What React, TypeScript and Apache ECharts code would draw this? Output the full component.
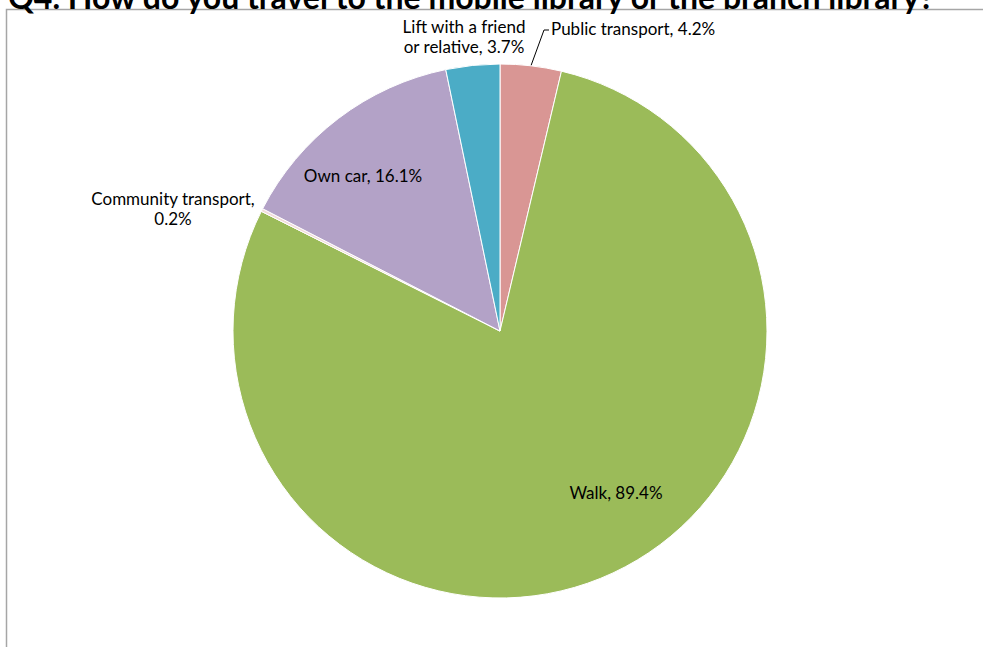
import React, { useEffect, useRef } from "react";
import * as echarts from "echarts";

const titleText = "Q4. How do you travel to the mobile library or the branch library?";
const categories = ["Public transport", "Walk", "Community transport", "Own car", "Lift with a friend or relative"];
const values = [4.2, 89.4, 0.2, 16.1, 3.7];
const colors = ["#D99694", "#9BBB59", "#F2DCDB", "#B3A2C7", "#4BACC6"];
// character index at which the label text wraps onto a second line
const wrapAt: Record<string, number> = { "Lift with a friend or relative": 18, "Community transport": 20 };

// label anchor positions (layout only)
const labelPos: Record<string, { x: number; y: number; align: string }> = {
  "Public transport": { x: 551, y: 28, align: "left" },
  "Walk": { x: 616, y: 492, align: "center" },
  "Community transport": { x: 173, y: 208, align: "center" },
  "Own car": { x: 363, y: 175, align: "center" },
  "Lift with a friend or relative": { x: 464, y: 36, align: "center" },
};

const FONT = "Lato, 'Open Sans', sans-serif";

export default function App() {
  const ref = useRef<HTMLDivElement>(null);
  useEffect(() => {
    if (!ref.current) return;
    const chart = echarts.init(ref.current, null, { renderer: "svg" });
    const data = categories.map((name, i) => ({
      name,
      value: values[i],
      itemStyle: { color: colors[i] },
      labelLine: { show: name === "Public transport" },
    }));
    chart.setOption({
      animation: false,
      backgroundColor: "#ffffff",
      graphic: [
        {
          type: "rect",
          z: -1,
          shape: { x: 6.5, y: 9.5, width: 1100, height: 800 },
          style: { fill: "none", stroke: "#a6a6a6", lineWidth: 1.5 },
          silent: true,
        },
        {
          type: "text",
          x: 8,
          y: 12,
          style: {
            text: titleText,
            font: `bold 32px ${FONT}`,
            fill: "#000000",
            textAlign: "left",
            textVerticalAlign: "bottom",
          },
        },
      ],
      series: [
        {
          type: "pie",
          center: [500, 331],
          radius: 267,
          startAngle: 90,
          clockwise: true,
          avoidLabelOverlap: false,
          itemStyle: { borderColor: "#ffffff", borderWidth: 1 },
          data,
          label: {
            show: true,
            position: "outside",
            fontFamily: FONT,
            fontSize: 17,
            lineHeight: 20,
            color: "#000000",
            formatter: (p: any) => {
              let t = `${p.name}, ${Number(p.value).toFixed(1)}%`;
              const w = wrapAt[p.name];
              if (w !== undefined) t = t.slice(0, w) + "\n" + t.slice(w + 1);
              return t;
            },
          },
          labelLine: {
            show: false,
            lineStyle: { color: "#000000", width: 1 },
          },
          labelLayout: (params: any) => {
            const name = categories[params.dataIndex];
            const pos = labelPos[name];
            const out: any = { x: pos.x, y: pos.y, align: pos.align, verticalAlign: "middle" };
            if (name === "Public transport" && params.labelLinePoints) {
              const p0 = params.labelLinePoints[0];
              out.labelLinePoints = [p0, [pos.x - 7, pos.y + 2], [pos.x - 2, pos.y + 2]];
            }
            return out;
          },
        },
      ],
    });
    return () => chart.dispose();
  }, []);
  return <div ref={ref} style={{ position: "fixed", left: 0, top: 0, width: 983, height: 647 }} />;
}
